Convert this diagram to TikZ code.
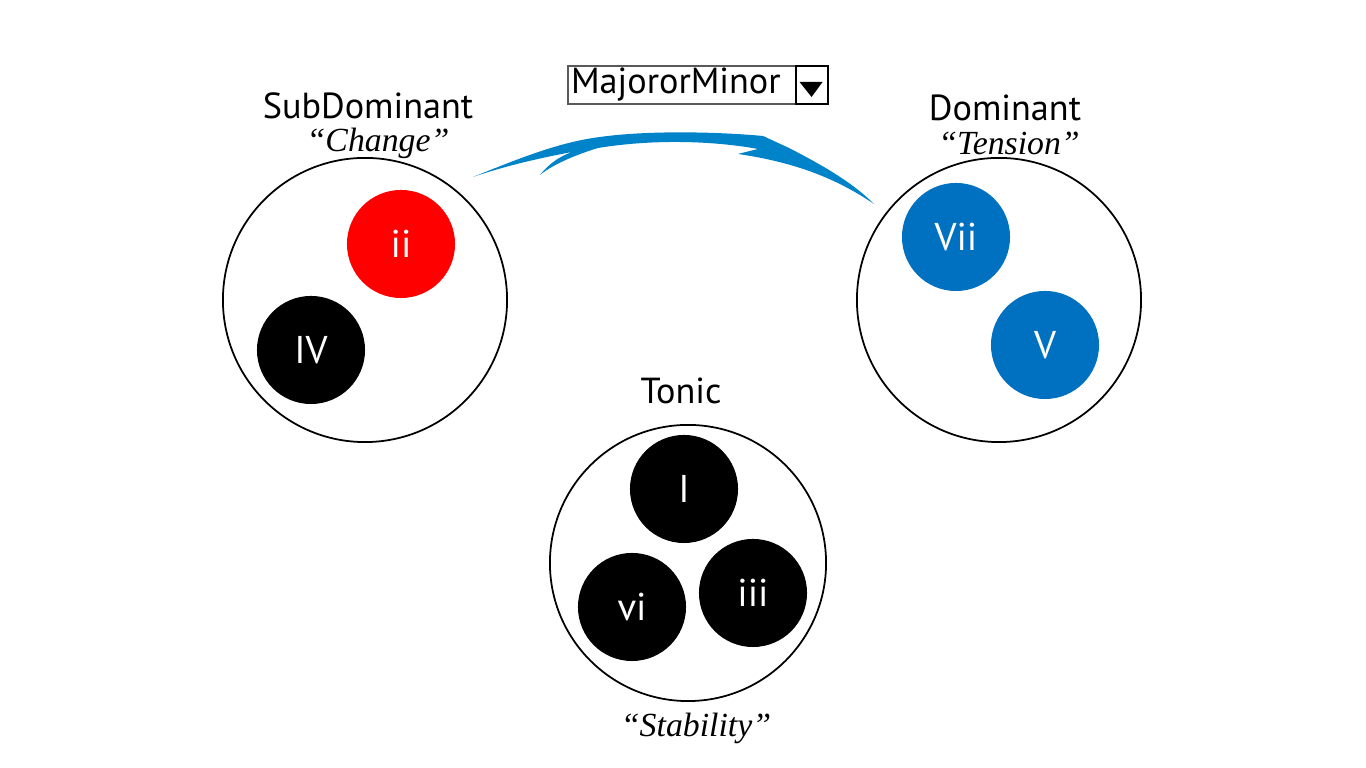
\documentclass[tikz,border=0pt]{standalone}
\usepackage{fontspec}
\setmainfont{Liberation Serif}
\newfontfamily\labelfont{PT Sans}
\usepackage{xcolor}
\definecolor{chordred}{RGB}{255,0,0}
\definecolor{chordblue}{RGB}{0,112,192}
\definecolor{swooshblue}{RGB}{0,131,200}
\definecolor{menugray}{RGB}{90,90,90}
\usetikzlibrary{positioning, calc}
\tikzset{
  groupcircle/.style={
    circle, draw=black, line width=0.5pt, minimum size=2.84cm, inner sep=0pt
  },
  chord/.style={
    circle, fill=#1, minimum size=1.08cm, inner sep=0pt,
    text=white, font=\labelfont\fontsize{11}{13}\selectfont
  },
  grouptitle/.style={inner sep=0pt, font=\labelfont\fontsize{10.3}{12}\selectfont},
  groupmood/.style={inner sep=0pt, font=\itshape\fontsize{9.6}{11}\selectfont},
}

\begin{document}
\begin{tikzpicture}[x=0.01cm, y=-0.01cm]
  \useasboundingbox[fill=white] (0,0) rectangle (1366,768);

  % --- Grupos de funciones ---
  \node (sub) [groupcircle] at (365,300) {};
  \node (dom) [groupcircle] at (999,300) {};
  \node (ton) [groupcircle, minimum size=2.76cm] at (688,563) {};

  % --- Acordes ---
  \node (ii)  [chord=chordred]  at (401,244) {ii};
  \node (IV)  [chord=black]     at (311,350) {IV};
  \node (vii) [chord=chordblue] at (956,237) {Vii};
  \node (V)   [chord=chordblue] at (1045,345) {V};
  \node (I)   [chord=black]     at (684,489) {I};
  \node (vi)  [chord=black]     at (632,607) {vi};
  \node (iii) [chord=black]     at (753,593) {iii};

  % --- Etiquetas ---
  \node (subname) [grouptitle] at (368,106) {SubDominant};
  \node (submood) [groupmood] at (378,143) {“Change”};
  \node (domname) [grouptitle] at (1005,108) {Dominant};
  \node (dommood) [groupmood] at (1009,143) {“Tension”};
  \node (tonname) [grouptitle] at (681,391) {Tonic};
  \node (tonmood) [groupmood] at (696,728) {“Stability”};

  % --- Selector ---
  \node (menu) [draw=menugray, line width=0.6pt, minimum width=2.59cm, minimum height=0.38cm,
        inner sep=0pt] at (698,85) {};
  \node (menutext) [grouptitle, anchor=west] at ($(menu.west)+(3,0)$) {MajororMinor};
  \node (menubtn) [draw=black, line width=0.6pt, minimum width=0.32cm, minimum height=0.38cm,
        inner sep=0pt, anchor=east] at (menu.east) {};
  \fill ($(menubtn.center)+(-12,-3)$) -- ($(menubtn.center)+(11,-3)$)
        -- ($(menubtn.center)+(0,12)$) -- cycle;

  % --- Flecha ---
  \fill[swooshblue] (473,177) .. controls (520,158) and (560,142) .. (600,137)
    .. controls (650,130) and (720,132) .. (763,136) -- (789,148)
    .. controls (822,165) and (852,182) .. (874,204)
    .. controls (840,181) and (800,163) .. (738,154) -- (758,149)
    .. controls (720,142) and (660,138) .. (598,148)
    .. controls (575,155) and (552,165) .. (540,175)
    .. controls (548,165) and (558,157) .. (572,152)
    .. controls (540,158) and (505,166) .. (473,177) -- cycle;

\end{tikzpicture}
\end{document}
